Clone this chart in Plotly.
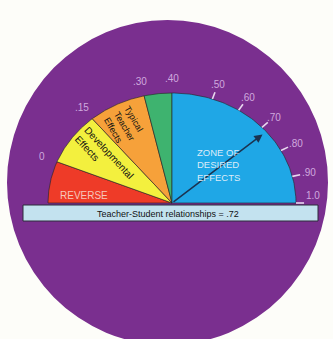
import numpy as np
import plotly.graph_objects as go

# ---------------- data ----------------
zone_names = ["Reverse", "Developmental effects", "Typical teacher effects", "Transition", "Zone of desired effects"]
zone_start = [-0.15, 0.00, 0.15, 0.30, 0.40]
zone_end = [0.00, 0.15, 0.30, 0.40, 1.00]
zone_labels = ["REVERSE", "Developmental<br>Effects", "Typical<br>Teacher<br>Effects", "", "ZONE OF<br>DESIRED<br>EFFECTS"]
zone_colors = ["#ee3b28", "#f3f03e", "#f6a13a", "#3eb36f", "#1fa7e6"]

tick_values = [0.00, 0.15, 0.30, 0.40, 0.50, 0.60, 0.70, 0.80, 0.90, 1.00]
tick_labels = ["0", ".15", ".30", ".40", ".50", ".60", ".70", ".80", ".90", "1.0"]
marked_ticks = [0.50, 0.60, 0.70, 0.80, 0.90, 1.00]

effect_name = "Teacher-Student relationships"
effect_size = 0.72

# dial scale as printed (value -> dial angle in degrees, non-linear)
scale_values = [-0.15, 0.00, 0.15, 0.30, 0.40, 0.50, 0.60, 0.70, 0.80, 0.90, 1.00]
scale_degrees = [180, 158, 130, 103, 90, 71, 57.5, 43.5, 28.5, 14, 0]


def ang(v):
    return np.radians(np.interp(v, scale_values, scale_degrees))


# ---------------- geometry of the page ----------------
W, H = 333, 339
CX, CY = 172, 203        # dial hub in pixels
RX, RY = 124, 110        # pixels per unit radius (x, y)
x_range = [-CX / RX, (W - CX) / RX]
y_range = [(CY - H) / RY, CY / RY]


def px(xp, yp):
    return (xp - CX) / RX, (CY - yp) / RY


fig = go.Figure()

# wedges
for s, e, c, n in zip(zone_start, zone_end, zone_colors, zone_names):
    t = np.linspace(ang(s), ang(e), 80)
    xs = np.concatenate([[0], np.cos(t), [0]])
    ys = np.concatenate([[0], np.sin(t), [0]])
    fig.add_trace(go.Scatter(x=xs, y=ys, fill="toself", fillcolor=c, mode="lines",
                             line=dict(color="rgba(35,35,35,0.75)", width=0.8),
                             name=n, hoverinfo="name", showlegend=False))

# tick marks on the desired-effects arc
tx, ty = [], []
for v in marked_ticks:
    a = ang(v)
    tx += [np.cos(a) * 1.0, np.cos(a) * 1.065, None]
    ty += [np.sin(a) * 1.0, np.sin(a) * 1.065, None]
fig.add_trace(go.Scatter(x=tx, y=ty, mode="lines", line=dict(color="#e8d8ef", width=1.6),
                         hoverinfo="skip", showlegend=False))

font_family = "Arial, Liberation Sans, Helvetica, sans-serif"

# tick labels
for v, lab in zip(tick_values, tick_labels):
    a = ang(v)
    deg = np.degrees(a)
    fig.add_annotation(x=1.135 * np.cos(a), y=1.135 * np.sin(a), text=lab, showarrow=False,
                       xanchor="center", yanchor="bottom" if deg < 8 else "middle",
                       font=dict(family=font_family, size=10, color="#cfa9de"))

# arrow for the effect size
a = ang(effect_size)
fig.add_annotation(x=0.96 * np.cos(a), y=0.96 * np.sin(a), ax=0, ay=0, axref="x", ayref="y",
                   xref="x", yref="y", text="", showarrow=True, arrowhead=2, arrowsize=1.1,
                   arrowwidth=1.5, arrowcolor="#1b3350")

# zone labels
lx, ly = px(83.5, 195)
fig.add_annotation(x=lx, y=ly, text=zone_labels[0], showarrow=False,
                   font=dict(family=font_family, size=10, color="#f7c6bb"))
lx, ly = px(104, 157)
fig.add_annotation(x=lx, y=ly, text=zone_labels[1], showarrow=False, textangle=47, align="left",
                   font=dict(family=font_family, size=10, color="#111111"))
lx, ly = px(125, 126)
fig.add_annotation(x=lx, y=ly, text=zone_labels[2], showarrow=False, textangle=60, align="left",
                   font=dict(family=font_family, size=9, color="#111111"))
lx, ly = px(218, 165)
fig.add_annotation(x=lx, y=ly, text=zone_labels[4], showarrow=False, align="left",
                   font=dict(family=font_family, size=9.5, color="#dcebf8"))

# caption bar
fig.add_shape(type="rect", xref="paper", yref="paper",
              x0=23 / W, x1=318 / W, y0=1 - 221 / H, y1=1 - 205 / H,
              fillcolor="#c3e2ef", line=dict(color="#2c2c3a", width=1), layer="above")
fig.add_annotation(xref="paper", yref="paper", x=168 / W, y=1 - 213.5 / H,
                   text=f"{effect_name} = {str(effect_size)[1:]}", showarrow=False,
                   font=dict(family=font_family, size=9, color="#111111"))

# purple disc behind everything
fig.add_shape(type="circle", xref="paper", yref="paper",
              x0=7 / W, x1=328 / W, y0=1 - 345 / H, y1=1 - 20 / H,
              fillcolor="#7a2f8f", line=dict(width=0), layer="below")

fig.update_xaxes(range=x_range, visible=False, fixedrange=True)
fig.update_yaxes(range=y_range, visible=False, fixedrange=True)
fig.update_layout(width=W, height=H, autosize=False, margin=dict(l=0, r=0, t=0, b=0),
                  paper_bgcolor="#fdfdf9", plot_bgcolor="rgba(0,0,0,0)", showlegend=False)

fig.write_html("out.html")
